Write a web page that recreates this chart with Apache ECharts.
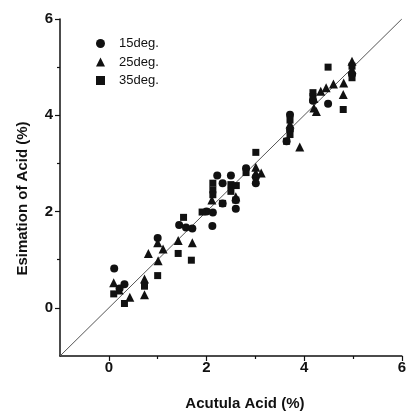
<!DOCTYPE html>
<html><head><meta charset="utf-8">
<script src="https://cdn.jsdelivr.net/npm/echarts@6/dist/echarts.min.js"></script>
<style>html,body{margin:0;padding:0;background:#fff}#c{width:409px;height:417px}</style>
</head><body><div id="c"></div>
<script>
var seriesNames = ['15deg.', '25deg.', '35deg.'];
var xTicks = [0, 2, 4, 6];
var yTicks = [0, 2, 4, 6];
var minorTicks = [1, 3, 5];
var lineRef = [[-1, -1], [6, 6]];
var deg15 = [[0.11,0.82],[0.32,0.49],[0.22,0.40],[1.0,1.45],[1.44,1.72],[1.58,1.67],[1.71,1.65],[2.0,2.0],[2.13,1.98],[2.12,1.70],[2.22,2.75],[2.33,2.59],[2.33,2.17],[2.50,2.75],[2.60,2.06],[2.60,2.24],[2.81,2.90],[3.01,2.72],[3.01,2.59],[3.71,4.01],[3.71,3.70],[3.64,3.46],[4.49,4.24],[4.18,4.30],[4.98,4.85]];
var deg25 = [[0.10,0.52],[0.21,0.37],[0.43,0.22],[0.73,0.60],[0.73,0.27],[0.81,1.13],[1.01,0.98],[1.11,1.22],[1.0,1.35],[1.42,1.40],[1.71,1.35],[2.11,2.24],[2.60,2.31],[3.01,2.92],[3.12,2.80],[3.01,2.80],[3.71,3.82],[3.91,3.34],[4.20,4.15],[4.25,4.08],[4.20,4.35],[4.34,4.50],[4.45,4.57],[4.60,4.65],[4.81,4.67],[4.80,4.43],[4.98,5.12],[4.98,4.95]];
var deg35 = [[0.10,0.29],[0.32,0.09],[0.73,0.45],[1.0,0.67],[1.42,1.13],[1.69,0.99],[1.53,1.88],[1.91,1.99],[2.13,2.59],[2.13,2.45],[2.13,2.35],[2.33,2.17],[2.50,2.56],[2.50,2.42],[2.61,2.54],[2.60,2.24],[2.81,2.81],[3.01,3.23],[3.71,3.90],[3.71,3.60],[3.64,3.46],[4.18,4.47],[4.18,4.39],[4.49,5.0],[4.80,4.12],[4.98,5.02],[4.98,4.78]];

var FONT = '"Liberation Sans", Arial, sans-serif';
var chart = echarts.init(document.getElementById('c'), null, {renderer: 'canvas'});
function axisBase(isX, main) {
  return {
    type: 'value', min: -1, max: 6,
    position: isX ? 'bottom' : 'left',
    splitLine: {show: false},
    axisLine: {show: main, onZero: false, lineStyle: {color: '#111', width: 1.5}},
    axisTick: {show: true, inside: false, length: main ? 5 : 3, customValues: main ? (isX ? xTicks : yTicks) : minorTicks, lineStyle: {color: '#111', width: 1.2}},
    axisLabel: {show: main, customValues: isX ? xTicks : yTicks, margin: isX ? 4 : 7, color: '#111', fontSize: 15, fontWeight: 'bold', fontFamily: FONT}
  };
}
var x0 = axisBase(true, true);
x0.name = 'Acutula Acid (%)';
x0.nameLocation = 'middle';
x0.nameGap = 40;
x0.nameTextStyle = {color: '#111', fontSize: 15, fontWeight: 'bold', fontFamily: FONT, padding: [0, 0, 0, 28]};
var y0 = axisBase(false, true);
y0.name = 'Esimation of Acid (%)';
y0.nameLocation = 'middle';
y0.nameGap = 30;
y0.nameTextStyle = {color: '#111', fontSize: 15, fontWeight: 'bold', fontFamily: FONT, padding: [0, 22, 0, 0]};

var option = {
  animation: false,
  backgroundColor: '#fff',
  grid: {left: 60, right: 0, top: 19, bottom: 61, containLabel: false},
  xAxis: [x0, axisBase(true, false)],
  yAxis: [y0, axisBase(false, false)],
  legend: {
    data: [{name: seriesNames[0], icon: 'circle'}, {name: seriesNames[1], icon: 'triangle'}, {name: seriesNames[2], icon: 'rect'}],
    orient: 'vertical', left: 96, top: 37, padding: 0, itemWidth: 9, itemHeight: 9, itemGap: 5.5,
    textStyle: {color: '#111', fontSize: 13, fontFamily: FONT, padding: [0, 0, 0, 9]}
  },
  series: [
    {type: 'line', data: lineRef, symbol: 'none', lineStyle: {color: '#555', width: 1}, silent: true, z: 1},
    {name: seriesNames[0], type: 'scatter', data: deg15, symbol: 'circle', symbolSize: 8, itemStyle: {color: '#111', opacity: 1}, z: 3},
    {name: seriesNames[1], type: 'scatter', data: deg25, symbol: 'triangle', symbolSize: 9, itemStyle: {color: '#111', opacity: 1}, z: 3},
    {name: seriesNames[2], type: 'scatter', data: deg35, symbol: 'rect', symbolSize: 7, itemStyle: {color: '#111', opacity: 1}, z: 3}
  ]
};
chart.setOption(option);
</script></body></html>
